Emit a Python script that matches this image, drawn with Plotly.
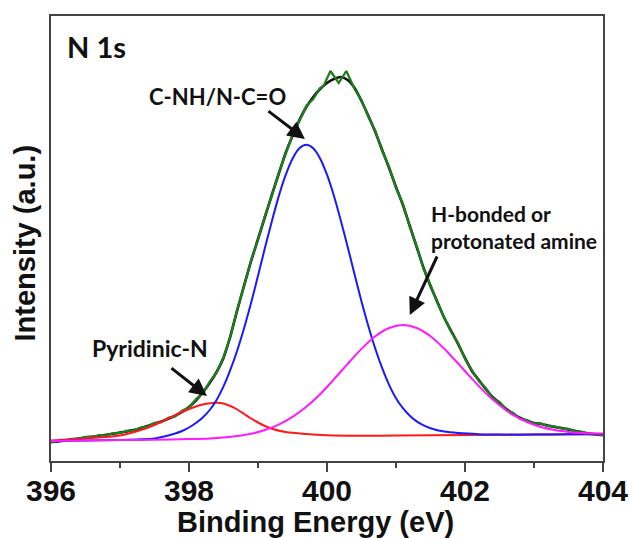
import plotly.graph_objects as go

# ---------------- data (binding energy in eV, intensity in a.u.) ----------------
raw_e = [396.0, 396.1, 396.2, 396.3, 396.4, 396.5, 396.6, 396.7, 396.8, 396.9,
         397.0, 397.1, 397.2, 397.3, 397.4, 397.5, 397.6, 397.7, 397.8, 397.9,
         398.0, 398.1, 398.2, 398.3, 398.4, 398.5, 398.6, 398.7, 398.8, 398.9,
         399.0, 399.1, 399.2, 399.3, 399.4, 399.5, 399.6, 399.7, 399.8, 399.9,
         399.95, 400.05, 400.17, 400.28, 400.4, 400.5, 400.6, 400.7, 400.8, 400.9,
         401.0, 401.1, 401.2, 401.3, 401.4, 401.5, 401.6, 401.7, 401.8, 401.9,
         402.0, 402.1, 402.2, 402.3, 402.4, 402.5, 402.6, 402.7, 402.8, 402.9,
         403.0, 403.1, 403.2, 403.3, 403.4, 403.5, 403.6, 403.7, 403.8, 403.9, 404.0]
raw_i = [-4.5, -3, -2.8, -1, -0.8, 1.2, 1.0, 2.8, 2.6, 4.8,
         5.0, 7.2, 7.6, 10.5, 11.4, 15.2, 15.8, 20.2, 21.6, 27.2,
         30.5, 38.6, 44.8, 56.2, 65.5, 81, 101, 129, 152, 178,
         198, 222, 242, 265, 284, 303, 317, 332, 339, 350,
         352, 367, 355, 367, 349, 338, 321, 307, 287, 271,
         250, 234, 211, 192, 169, 153, 135, 121, 106, 95,
         79, 68, 57, 50, 40, 36, 28, 25, 19, 18,
         14.5, 14.5, 12, 11.5, 9.5, 9, 6.5, 6.2, 4, 4, 3]

env_e = [396.0, 396.1, 396.2, 396.3, 396.4, 396.5, 396.6, 396.7, 396.8, 396.9,
         397.0, 397.1, 397.2, 397.3, 397.4, 397.5, 397.6, 397.7, 397.8, 397.9,
         398.0, 398.1, 398.2, 398.3, 398.4, 398.5, 398.6, 398.7, 398.8, 398.9,
         399.0, 399.1, 399.2, 399.3, 399.4, 399.5, 399.6, 399.7, 399.8, 399.9,
         400.0, 400.1, 400.2, 400.3, 400.4, 400.5, 400.6, 400.7, 400.8, 400.9,
         401.0, 401.1, 401.2, 401.3, 401.4, 401.5, 401.6, 401.7, 401.8, 401.9,
         402.0, 402.1, 402.2, 402.3, 402.4, 402.5, 402.6, 402.7, 402.8, 402.9,
         403.0, 403.1, 403.2, 403.3, 403.4, 403.5, 403.6, 403.7, 403.8, 403.9, 404.0]
env_i = [-4, -3.5, -2.5, -1.5, -0.5, 0.5, 1.3, 2.2, 3.2, 4.2,
         5.4, 6.6, 8.0, 9.8, 12, 14.3, 16.6, 19.2, 22.3, 26,
         31, 37.5, 45.5, 55, 66, 80, 102, 128, 153, 177,
         199, 221, 243, 264, 285, 302, 318, 331, 341, 349,
         355, 359, 361, 358, 350, 337, 322, 306, 288, 270,
         251, 233, 212, 191, 170, 152, 136, 120, 107, 94,
         80, 67, 58, 49, 41, 35, 29, 24, 20, 17,
         15, 14, 12.5, 11, 10, 8.5, 7, 5.8, 4.5, 3.6, 3]

pyr_e = [396.0, 396.5, 397.0, 397.3, 397.5, 397.7, 397.9, 398.0, 398.1, 398.2,
         398.3, 398.4, 398.5, 398.6, 398.7, 398.8, 398.9, 399.0, 399.1, 399.2,
         399.4, 399.7, 400.0, 400.5, 401.0, 402.0, 403.0, 404.0]
pyr_i = [-2.5, -0.5, 2.5, 8, 13, 19.5, 26, 29, 31.5, 33.5,
         34.8, 35.3, 34.5, 32, 28.5, 24, 19.5, 15.5, 12, 9.3,
         6, 4, 2.8, 2.3, 2.4, 3, 3.4, 3.8]

cnh_e = [396.0, 396.5, 397.0, 397.3, 397.5, 397.7, 397.8, 397.9, 398.0, 398.1,
         398.2, 398.3, 398.4, 398.5, 398.6, 398.7, 398.8, 398.9, 399.0, 399.1,
         399.2, 399.3, 399.4, 399.5, 399.6, 399.7, 399.8, 399.9, 400.0, 400.1,
         400.2, 400.3, 400.4, 400.5, 400.6, 400.7, 400.8, 400.9, 401.0, 401.1,
         401.2, 401.3, 401.4, 401.5, 401.7, 401.9, 402.2, 402.5, 403.0, 403.5, 404.0]
cnh_i = [-3, -2.4, -1.9, -1.3, -0.4, 2.5, 4.5, 7, 10.5, 15,
         20.5, 28, 38.1, 51.6, 68.3, 87.8, 110.3, 135.2, 162.2, 189.9,
         216.6, 241.6, 262.8, 279.3, 289.7, 293.2, 289.8, 279.6, 263.3, 242.3,
         217.5, 191.0, 163.5, 136.6, 111.8, 89.3, 69.8, 53.2, 39.8, 29.8,
         22.2, 16.6, 12.6, 9.8, 6.4, 4.9, 3.8, 3.4, 3.4, 3.8, 4.0]

hb_e = [396.0, 396.5, 397.0, 397.5, 398.0, 398.3, 398.5, 398.7, 398.9, 399.1,
        399.3, 399.5, 399.7, 399.9, 400.1, 400.3, 400.5, 400.7, 400.9, 401.1,
        401.3, 401.5, 401.7, 401.9, 402.1, 402.3, 402.5, 402.7, 402.9, 403.1,
        403.3, 403.5, 403.7, 404.0]
hb_i = [-3, -2.6, -2.1, -1.7, -1.1, -0.5, 0.4, 1.9, 4.2, 8.0,
        13.4, 21.1, 31.2, 43.8, 58.6, 74.2, 89.1, 101.7, 110.0, 113.0,
        110.0, 101.8, 89.3, 74.5, 59.3, 44.9, 32.7, 22.8, 16, 11,
        7.9, 6.1, 5.0, 4.5]

x_ticks = [396, 398, 400, 402, 404]

label_cnh = "C-NH/N-C=O"
label_pyr = "Pyridinic-N"
label_hb = "H-bonded or<br>protonated amine"
label_core = "N 1s"
x_title = "Binding Energy (eV)"
y_title = "Intensity (a.u.)"

# ---------------- figure ----------------
fig = go.Figure()
fig.add_trace(go.Scatter(x=env_e, y=env_i, mode="lines",
                         line=dict(color="#111111", width=2.6, shape="spline", smoothing=0.6)))
fig.add_trace(go.Scatter(x=raw_e, y=raw_i, mode="lines",
                         line=dict(color="#1f7d1f", width=2.3)))
fig.add_trace(go.Scatter(x=pyr_e, y=pyr_i, mode="lines",
                         line=dict(color="#ff1a1a", width=2, shape="spline", smoothing=0.8)))
fig.add_trace(go.Scatter(x=cnh_e, y=cnh_i, mode="lines",
                         line=dict(color="#1a1aff", width=2, shape="spline", smoothing=0.8)))
fig.add_trace(go.Scatter(x=hb_e, y=hb_i, mode="lines",
                         line=dict(color="#ff1aff", width=2, shape="spline", smoothing=0.8)))

lab_family = "Lato, Liberation Sans, Arial"
arrow_style = dict(text="", showarrow=True, arrowhead=2, arrowsize=1.15,
                   arrowwidth=3, arrowcolor="#111111")
annotations = [
    dict(x=396.21, y=392, text="<b>%s</b>" % label_core, showarrow=False,
         xanchor="left", yanchor="middle",
         font=dict(family=lab_family, size=29, color="#111111")),
    dict(x=398.41, y=342, text="<b>%s</b>" % label_cnh, showarrow=False,
         xanchor="center", yanchor="middle",
         font=dict(family=lab_family, size=22, color="#111111")),
    dict(x=397.43, y=90, text="<b>%s</b>" % label_pyr, showarrow=False,
         xanchor="center", yanchor="middle",
         font=dict(family=lab_family, size=23, color="#111111")),
    dict(x=401.48, y=211.5, text="<b>%s</b>" % label_hb, showarrow=False,
         xanchor="left", yanchor="middle", align="left",
         font=dict(family=lab_family, size=21, color="#111111")),
    # arrows (tip at x, y; tail offset in pixels)
    dict(x=399.68, y=299, ax=-38, ay=-29, **arrow_style),
    dict(x=398.26, y=42, ax=-37, ay=-29, **arrow_style),
    dict(x=401.20, y=123, ax=28, ay=-60, **arrow_style),
    # axis titles
    dict(xref="paper", yref="paper", x=0.5, y=0, yshift=-61, xshift=-12,
         text="<b>%s</b>" % x_title, showarrow=False, xanchor="center", yanchor="middle",
         font=dict(family="Liberation Sans, Arial", size=29, color="#111111")),
    dict(xref="paper", yref="paper", x=0, y=0.5, xshift=-27, yshift=-5,
         text="<b>%s</b>" % y_title, showarrow=False, textangle=-90,
         xanchor="center", yanchor="middle",
         font=dict(family="Liberation Sans, Arial", size=29, color="#111111")),
]

fig.update_layout(
    width=632, height=538,
    margin=dict(l=51, r=29, t=16, b=77, autoexpand=False),
    paper_bgcolor="white", plot_bgcolor="white",
    showlegend=False,
    annotations=annotations,
    xaxis=dict(range=[396, 404], tickvals=x_ticks,
               ticktext=["<b>%d</b>" % v for v in x_ticks],
               ticks="outside", ticklen=9, tickwidth=2, tickcolor="#444444",
               ticklabelstandoff=-7, automargin=False,
               minor=dict(dtick=1, tick0=396, ticks="outside", ticklen=5, tickwidth=2,
                          tickcolor="#444444", showgrid=False),
               showline=True, linecolor="#444444", linewidth=2, mirror=True,
               showgrid=False, zeroline=False,
               tickfont=dict(family="Liberation Sans, Arial", size=30, color="#111111")),
    yaxis=dict(range=[-23, 422], showticklabels=False, ticks="", automargin=False,
               showline=True, linecolor="#444444", linewidth=2, mirror=True,
               showgrid=False, zeroline=False),
)

fig.write_html("out.html")
